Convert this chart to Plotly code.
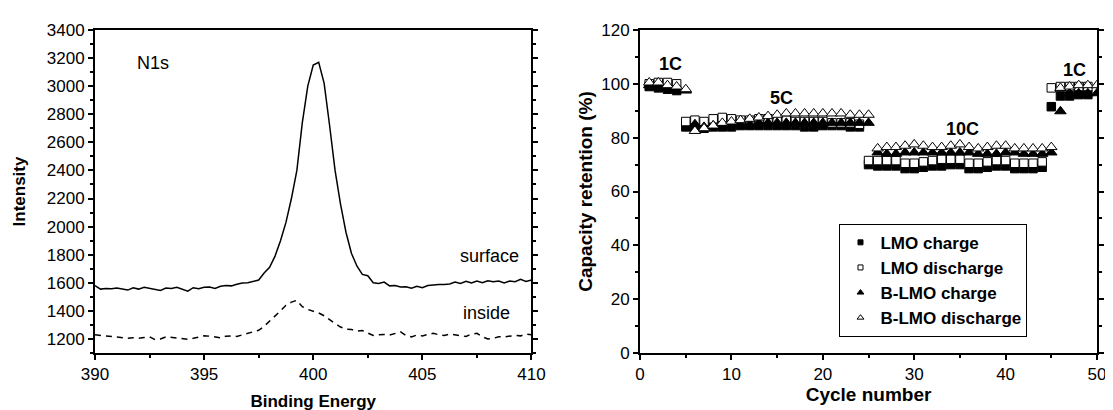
import plotly.graph_objects as go
from plotly.subplots import make_subplots

# ---- left panel: N1s XPS spectra ----
binding_energy = [
    390.00, 390.25, 390.50, 390.75, 391.00, 391.25, 391.50, 391.75, 392.00, 392.25,
    392.50, 392.75, 393.00, 393.25, 393.50, 393.75, 394.00, 394.25, 394.50, 394.75,
    395.00, 395.25, 395.50, 395.75, 396.00, 396.25, 396.50, 396.75, 397.00, 397.25,
    397.50, 397.75, 398.00, 398.25, 398.50, 398.75, 399.00, 399.25, 399.50, 399.75,
    400.00, 400.25, 400.50, 400.75, 401.00, 401.25, 401.50, 401.75, 402.00, 402.25,
    402.50, 402.75, 403.00, 403.25, 403.50, 403.75, 404.00, 404.25, 404.50, 404.75,
    405.00, 405.25, 405.50, 405.75, 406.00, 406.25, 406.50, 406.75, 407.00, 407.25,
    407.50, 407.75, 408.00, 408.25, 408.50, 408.75, 409.00, 409.25, 409.50, 409.75,
    410.00,
]
surface = [
    1580, 1555, 1560, 1558, 1562, 1555, 1548, 1565, 1555, 1568,
    1560, 1552, 1545, 1562, 1560, 1568, 1552, 1540, 1565, 1558,
    1568, 1570, 1560, 1575, 1580, 1578, 1590, 1598, 1600, 1612,
    1620, 1670, 1710, 1790, 1900, 2030, 2200, 2400, 2740, 3000,
    3150, 3170, 3020, 2720, 2400, 2160, 1960, 1810, 1720, 1660,
    1650, 1600, 1595, 1605, 1578, 1580, 1570, 1572, 1562, 1575,
    1565, 1580, 1585, 1588, 1588, 1592, 1605, 1595, 1610, 1598,
    1612, 1600, 1615, 1608, 1612, 1598, 1612, 1608, 1625, 1610,
    1620,
]
inside = [
    1230, 1225, 1220, 1215, 1212, 1210, 1205, 1208, 1205, 1210,
    1215, 1195, 1200, 1215, 1210, 1205, 1200, 1198, 1205, 1215,
    1222, 1220, 1212, 1208, 1220, 1222, 1218, 1230, 1240, 1255,
    1262, 1290, 1325, 1360, 1400, 1440, 1462, 1475, 1430, 1410,
    1400, 1385, 1365, 1335, 1310, 1285, 1270, 1268, 1255, 1260,
    1245, 1225, 1230, 1232, 1228, 1240, 1250, 1225, 1215, 1228,
    1222, 1232, 1240, 1230, 1225, 1235, 1230, 1222, 1218, 1235,
    1240, 1215, 1200, 1205, 1215, 1215, 1218, 1225, 1222, 1235,
    1230,
]

# ---- right panel: rate capability ----
lmo_cycles = [
    1, 2, 3, 4,
    5, 6, 7, 8, 9, 10, 11, 12, 13, 14, 15, 16, 17, 18, 19, 20, 21, 22, 23, 24,
    25, 26, 27, 28, 29, 30, 31, 32, 33, 34, 35, 36, 37, 38, 39, 40, 41, 42, 43, 44,
    45, 46, 47, 48, 49,
]
lmo_charge = [
    99.0, 98.5, 98.0, 97.5,
    84.0, 83.5, 83.5, 84.0, 84.0, 84.0, 84.5, 84.5, 84.5, 84.5,
    84.5, 84.5, 84.5, 84.0, 84.0, 84.5, 84.5, 84.5, 84.0, 84.0,
    70.0, 69.5, 69.5, 69.5, 68.5, 68.5, 69.0, 69.5, 69.5, 70.0,
    70.0, 68.5, 68.5, 69.0, 69.5, 69.5, 68.5, 68.5, 68.5, 69.0,
    91.5, 95.5, 95.5, 96.0, 96.0,
]
lmo_discharge = [
    100.0, 100.5, 100.5, 100.0,
    86.0, 86.5, 86.0, 87.0, 87.5, 87.0, 86.5, 86.5, 87.0, 87.0,
    86.5, 86.5, 86.0, 86.0, 86.0, 86.0, 85.5, 85.5, 85.5, 85.0,
    71.5, 71.5, 71.5, 71.5, 70.5, 70.5, 71.0, 71.5, 72.0, 72.0,
    72.0, 70.5, 70.5, 71.0, 71.5, 71.5, 70.5, 70.5, 70.5, 71.0,
    98.5, 99.0, 99.0, 99.0, 99.0,
]
blmo_cycles = [
    1, 2, 3, 4, 5,
    6, 7, 8, 9, 10, 11, 12, 13, 14, 15, 16, 17, 18, 19, 20, 21, 22, 23, 24, 25,
    26, 27, 28, 29, 30, 31, 32, 33, 34, 35, 36, 37, 38, 39, 40, 41, 42, 43, 44, 45,
    46, 47, 48, 49, 50,
]
blmo_charge = [
    99.5, 99.0, 98.5, 98.0, 97.5,
    85.0, 84.0, 84.5, 84.5, 85.0, 85.0, 85.0, 85.5, 85.5, 85.5,
    85.5, 85.5, 85.5, 85.5, 85.5, 85.5, 85.5, 85.5, 85.5, 85.5,
    74.5, 74.0, 74.0, 74.5, 74.5, 74.5, 74.5, 74.5, 74.5, 74.5,
    74.5, 74.0, 74.0, 74.0, 74.5, 74.5, 74.0, 74.0, 74.0, 74.5,
    89.8, 96.5, 96.5, 96.5, 96.5,
]
blmo_discharge = [
    100.5, 100.5, 99.5, 99.0, 98.0,
    82.5, 83.5, 84.5, 85.5, 86.0, 86.5, 87.0, 87.5, 88.0, 88.5,
    89.0, 89.0, 89.0, 89.0, 89.0, 89.0, 89.0, 88.5, 88.5, 88.5,
    76.0, 76.5, 76.5, 77.0, 77.5, 77.0, 76.5, 76.5, 77.0, 77.5,
    76.5, 76.0, 76.5, 77.0, 77.0, 76.0, 76.0, 76.0, 76.0, 76.5,
    98.5, 99.0, 99.5, 99.5, 99.5,
]

FONT = "Liberation Sans, Arial, sans-serif"

fig = make_subplots(rows=1, cols=2, horizontal_spacing=0.1)

# XPS curves
fig.add_trace(go.Scatter(x=binding_energy, y=surface, mode="lines",
                         line=dict(color="black", width=1.5), showlegend=False), row=1, col=1)
fig.add_trace(go.Scatter(x=binding_energy, y=inside, mode="lines",
                         line=dict(color="black", width=1.5, dash="6px,5px"), showlegend=False), row=1, col=1)

# rate capability series (drawn in legend order so hollow triangles end up on top)
series = [
    ("LMO charge", lmo_cycles, lmo_charge, "square", "black", 8.5, 5),
    ("LMO discharge", lmo_cycles, lmo_discharge, "square", "white", 8.5, 5),
    ("B-LMO charge", blmo_cycles, blmo_charge, "triangle-up", "black", 10, 6),
    ("B-LMO discharge", blmo_cycles, blmo_discharge, "triangle-up", "white", 10, 6),
]
for name, cx, cy, sym, fill, size, lsize in series:
    fig.add_trace(go.Scatter(
        x=cx, y=cy, mode="markers", name=name, showlegend=False,
        marker=dict(symbol=sym, size=size, color=fill, line=dict(color="black", width=1)),
    ), row=1, col=2)
    # small legend-only swatch, like the original's tiny legend symbols
    fig.add_trace(go.Scatter(
        x=[None], y=[None], mode="markers", name=name,
        marker=dict(symbol=sym, size=lsize, color=fill, line=dict(color="black", width=1)),
    ), row=1, col=2)

axis_common = dict(
    showline=True, linecolor="black", linewidth=2,
    ticks="outside", ticklen=5, tickwidth=2, tickcolor="black",
    showgrid=False, zeroline=False,
    tickfont=dict(family=FONT, size=17, color="black"),
)

fig.update_xaxes(**axis_common, mirror=True)
fig.update_yaxes(**axis_common, mirror="ticks")

fig.update_xaxes(row=1, col=1, range=[390, 410], dtick=5, domain=[0, 0.4356],
                 minor=dict(dtick=2.5, ticklen=3, tickwidth=2, tickcolor="black", ticks="outside"),
                 title=dict(text="<b>Binding Energy</b>", font=dict(family=FONT, size=17, color="black"), standoff=12))
fig.update_yaxes(row=1, col=1, range=[1100, 3400], dtick=200, tick0=1200,
                 minor=dict(dtick=100, ticklen=3, tickwidth=2, tickcolor="black", ticks="outside"),
                 title=dict(text="<b>Intensity</b>", font=dict(family=FONT, size=17, color="black"), standoff=17))
fig.update_xaxes(row=1, col=2, range=[0, 50], dtick=10, domain=[0.544, 1.0],
                 minor=dict(dtick=5, ticklen=3, tickwidth=2, tickcolor="black", ticks="outside"),
                 title=dict(text="<b>Cycle number</b>", font=dict(family=FONT, size=19, color="black"), standoff=0))
fig.update_yaxes(row=1, col=2, range=[0, 120], dtick=20,
                 minor=dict(dtick=10, ticklen=3, tickwidth=2, tickcolor="black", ticks="outside"),
                 title=dict(text="<b>Capacity retention (%)</b>", font=dict(family=FONT, size=19, color="black"), standoff=4))

# in-plot labels
fig.add_annotation(x=391.85, y=3165, xref="x", yref="y", text="N1s", showarrow=False,
                   xanchor="left", font=dict(family=FONT, size=18, color="black"))
fig.add_annotation(x=409.5, y=1790, xref="x", yref="y", text="surface", showarrow=False,
                   xanchor="right", font=dict(family=FONT, size=18, color="black"))
fig.add_annotation(x=409.1, y=1382, xref="x", yref="y", text="inside", showarrow=False,
                   xanchor="right", font=dict(family=FONT, size=18, color="black"))

rate_labels = [("1C", 3.3, 107.4), ("5C", 15.5, 94.6), ("10C", 35.3, 83.1), ("1C", 47.5, 105.0)]
for txt, lx, ly in rate_labels:
    fig.add_annotation(x=lx, y=ly, xref="x2", yref="y2", text=f"<b>{txt}</b>", showarrow=False,
                       font=dict(family=FONT, size=18, color="black"))

fig.update_layout(
    width=1113, height=410,
    margin=dict(l=86, r=10, t=22, b=59),
    plot_bgcolor="white", paper_bgcolor="white",
    font=dict(family=FONT, color="black"),
    legend=dict(
        x=0.743, y=0.40, xanchor="left", yanchor="top",
        bordercolor="black", borderwidth=1, bgcolor="white",
        font=dict(family=FONT, size=17, color="black", weight="bold"),
        tracegroupgap=0, itemwidth=30, entrywidth=175,
    ),
)

fig.write_html("out.html")
